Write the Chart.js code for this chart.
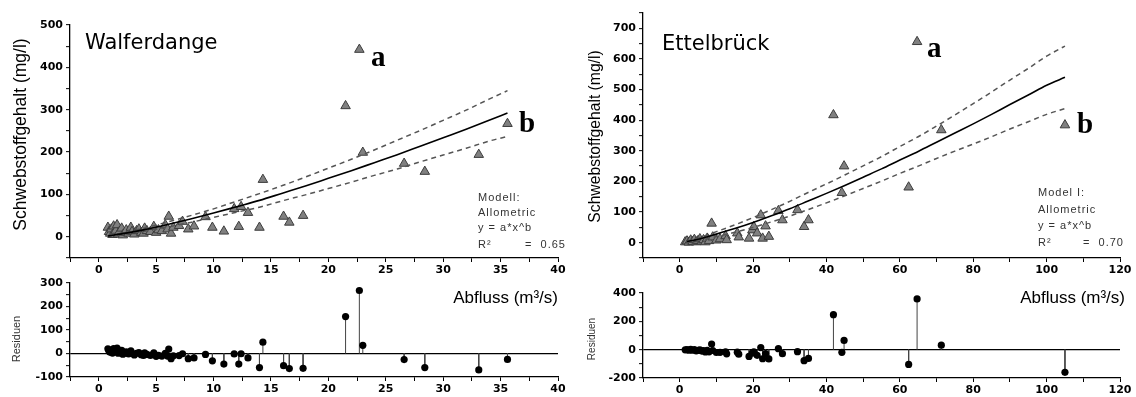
<!DOCTYPE html>
<html><head><meta charset="utf-8">
<script src="https://cdn.jsdelivr.net/npm/chart.js@4.4.0/dist/chart.umd.min.js"></script>
<style>
html,body{margin:0;padding:0;background:#fff;}
#wrap{position:relative;width:1136px;height:397px;overflow:hidden;background:#fff;}
canvas{position:absolute;}
</style></head><body>
<div id="wrap">
<canvas id="l1" width="575" height="287" style="left:0;top:0;"></canvas>
<canvas id="l2" width="575" height="127" style="left:0;top:270px;"></canvas>
<canvas id="r1" width="561" height="287" style="left:575px;top:0;"></canvas>
<canvas id="r2" width="561" height="127" style="left:575px;top:270px;"></canvas>
</div>
<script>
// ---------- Walferdange data ----------
const walfQ = [0.8,0.9,1.0,1.1,1.2,1.3,1.4,1.5,1.6,1.7,1.8,2.0,2.1,2.3,2.4,2.6,2.8,2.9,3.1,3.3,3.5,3.7,3.9,4.0,4.2,4.5,4.8,5.0,5.2,5.5,5.8,6.0,6.1,6.3,6.5,7.0,7.3,7.8,8.3,9.3,9.9,10.9,11.8,12.2,12.4,13.0,14.0,14.3,16.1,16.6,17.8,21.5,22.7,23.0,26.6,28.4,33.1,35.6];
const walfS = [22,12,8,18,5,25,10,15,28,6,12,20,4,10,16,8,22,12,6,14,18,10,8,20,14,12,24,10,16,14,28,18,48,8,22,26,36,18,25,47,22,13,66,24,71,57,22,135,48,34,50,309,442,199,173,154,194,267];
const walfRes = [20,10,5,15,2,21,6,10,23,1,6,13,-3,2,7,-2,11,1,-6,1,4,-5,-8,3,-4,-8,3,-12,-8,-11,1,-11,19,-22,-10,-9,-1,-22,-19,-4,-31,-45,-2,-45,-1,-19,-60,48,-52,-64,-63,157,268,35,-26,-60,-70,-25];
const walfFitQ = [0.8,2,4,6,8,10,12,14,16,18,20,22,24,26,28,30,32,34,35.6];
const walfFit = [2,7,17,29,42,56,71,86,103,120,138,156,175,194,214,234,254,275,292];
const walfUpper = [3,9,21,35,50,66,84,102,121,141,162,183,205,228,251,275,299,325,345];
const walfLower = [1,5,13,23,34,46,58,70,85,99,114,129,145,160,177,193,209,226,237];
const walfXLabels = [0,5,10,15,20,25,30,35,40];
const walfYLabels = [0,100,200,300,400,500];
const walfResLabels = [-100,0,100,200,300];

// ---------- Ettelbrück data ----------
const ettQ = [1.5,2,2.5,3,3.5,4,4.5,5,5.5,6,6.5,7,7.5,8,8.7,9,10,11,12.5,12.8,15.7,16.1,18.9,19.8,20.2,21.1,22.1,22.6,23.4,24.3,26.9,28,32.1,33.9,35.1,41.9,44.2,44.8,62.4,64.7,71.3,105];
const ettS = [2,5,1,8,3,10,2,6,12,4,9,2,14,6,63,18,8,12,22,9,31,18,14,41,52,31,90,14,54,20,104,74,107,52,74,417,163,250,181,656,368,384];
const ettRes = [-1,1,-4,2,-4,1,-8,-5,-1,-10,-7,-16,-5,-15,40,-6,-20,-19,-15,-29,-18,-32,-48,-25,-15,-40,15,-64,-27,-65,7,-28,-14,-78,-62,247,-19,65,-104,358,32,-160];
const ettFitQ = [2,5,10,15,20,25,30,35,40,45,50,55,60,65,70,75,80,85,90,95,100,105];
const ettFit = [4,11,28,46,66,88,111,136,161,187,214,241,270,298,328,358,388,419,451,482,514,540];
const ettUpper = [6,15,36,58,82,108,135,164,192,221,251,281,314,346,381,417,454,492,531,569,609,642];
const ettLower = [2,7,20,34,50,68,87,108,130,153,177,201,226,250,275,299,322,346,371,395,419,438];
const ettXLabels = [0,20,40,60,80,100,120];
const ettYLabels = [0,100,200,300,400,500,600,700];
const ettResLabels = [-200,0,200,400];

Chart.defaults.font.family = 'DejaVu Sans';
Chart.defaults.color = '#000';

const pts = (xs, ys) => xs.map((x, i) => ({x, y: ys[i]}));
const stems = (xs, ys) => {
  const out = [];
  xs.forEach((x, i) => { out.push({x, y: 0}, {x, y: ys[i]}, {x, y: null}); });
  return out;
};
const has = (arr, v) => arr.some(a => Math.abs(a - v) < 1e-6);

function textPlugin(items) {
  return {
    id: 'txt',
    afterDraw(chart) {
      const ctx = chart.ctx;
      items.forEach(t => {
        ctx.save();
        ctx.font = t.font;
        ctx.fillStyle = t.color || '#000';
        ctx.textAlign = t.align || 'left';
        ctx.textBaseline = t.base || 'alphabetic';
        if (t.sp) ctx.letterSpacing = t.sp;
        ctx.translate(t.x, t.y);
        if (t.rot) ctx.rotate(t.rot);
        ctx.fillText(t.text, 0, 0);
        ctx.restore();
      });
    }
  };
}

const tickFont = {family: 'DejaVu Sans', size: 11, weight: 'bold'};

function xAxis(min, max, step, labels, h) {
  return {
    type: 'linear', min, max, offset: false,
    ticks: {stepSize: step, autoSkip: false, maxRotation: 0, padding: 2, color: '#000', font: tickFont,
      callback: v => has(labels, v) ? String(v) : ''},
    grid: {drawOnChartArea: false, drawTicks: true, tickLength: 4, tickColor: '#000', tickWidth: 1},
    border: {display: true, color: '#000', width: 1.3},
    afterFit: s => { s.height = h; s.paddingLeft = 0; s.paddingRight = 0; }
  };
}
function yAxis(min, max, step, labels, w, zeroLine) {
  return {
    type: 'linear', min, max,
    ticks: {stepSize: step, autoSkip: false, padding: 3, color: '#000', font: tickFont,
      callback: v => has(labels, v) ? String(v) : ''},
    grid: {drawOnChartArea: !!zeroLine, drawTicks: true, tickLength: 4, tickColor: '#000', tickWidth: 1,
      color: c => (zeroLine && c.tick && c.tick.value === 0) ? '#000' : 'rgba(0,0,0,0)', lineWidth: 1.3},
    border: {display: true, color: '#000', width: 1.3},
    afterFit: s => { s.width = w; s.paddingTop = 0; s.paddingBottom = 0; }
  };
}

function topChart(id, q, s, fq, fit, up, lo, xr, yr, dims, texts) {
  return new Chart(document.getElementById(id), {
    type: 'scatter',
    data: {datasets: [
      {data: pts(fq, fit), showLine: true, pointRadius: 0, borderColor: '#000', borderWidth: 1.6, cubicInterpolationMode: 'monotone'},
      {data: pts(fq, up), showLine: true, pointRadius: 0, borderColor: '#555', borderWidth: 1.5, borderDash: [5, 4], cubicInterpolationMode: 'monotone'},
      {data: pts(fq, lo), showLine: true, pointRadius: 0, borderColor: '#555', borderWidth: 1.5, borderDash: [5, 4], cubicInterpolationMode: 'monotone'},
      {data: pts(q, s), pointStyle: 'triangle', pointRadius: 5.5, backgroundColor: '#808080', borderColor: '#3c3c3c', borderWidth: 1, clip: false}
    ]},
    options: {
      responsive: false, animation: false, devicePixelRatio: 1,
      layout: {padding: {left: 0, top: dims.top, right: dims.right, bottom: 0}},
      plugins: {legend: {display: false}, tooltip: {enabled: false}},
      scales: {x: xAxis(xr[0], xr[1], xr[2], xr[3], dims.xh), y: yAxis(yr[0], yr[1], yr[2], yr[3], dims.yw, false)}
    },
    plugins: [textPlugin(texts)]
  });
}
function resChart(id, q, r, xr, yr, dims, texts) {
  return new Chart(document.getElementById(id), {
    type: 'scatter',
    data: {datasets: [
      {data: pts(q, r), pointStyle: 'circle', pointRadius: 3.6, backgroundColor: '#000', borderColor: '#000', borderWidth: 0, clip: false},
      {data: stems(q, r), showLine: true, spanGaps: false, pointRadius: 0, borderColor: '#444', borderWidth: 1}
    ]},
    options: {
      responsive: false, animation: false, devicePixelRatio: 1,
      layout: {padding: {left: 0, top: dims.top, right: dims.right, bottom: 0}},
      plugins: {legend: {display: false}, tooltip: {enabled: false}},
      scales: {x: xAxis(xr[0], xr[1], xr[2], xr[3], dims.xh), y: yAxis(yr[0], yr[1], yr[2], yr[3], dims.yw, true)}
    },
    plugins: [textPlugin(texts)]
  });
}

const modelFont = '11px "Liberation Sans"';
const titleFont = '21px "DejaVu Sans"';
const letterFont = 'bold 29px "Liberation Serif"';

topChart('l1', walfQ, walfS, walfFitQ, walfFit, walfUpper, walfLower,
  [-2.5, 40, 2.5, walfXLabels], [-50, 500, 50, walfYLabels],
  {yw: 70, xh: 29, top: 25, right: 17},
  [
    {text: 'Walferdange', x: 85, y: 49, font: titleFont},
    {text: 'a', x: 371, y: 66, font: letterFont},
    {text: 'b', x: 519, y: 132, font: letterFont},
    {text: 'Modell:', x: 478, y: 198, font: modelFont, color: '#333', base: 'middle', sp: '1px'},
    {text: 'Allometric', x: 478, y: 213, font: modelFont, color: '#333', base: 'middle', sp: '1px'},
    {text: 'y = a*x^b', x: 478, y: 228, font: modelFont, color: '#333', base: 'middle', sp: '1px'},
    {text: 'R²', x: 478, y: 245, font: modelFont, color: '#333', base: 'middle', sp: '1px'},
    {text: '=  0.65', x: 525, y: 245, font: modelFont, color: '#333', base: 'middle', sp: '1px'},
    {text: 'Schwebstoffgehalt (mg/l)', x: 21, y: 134.5, rot: -Math.PI / 2, align: 'center', base: 'middle', font: '17.5px "Liberation Sans"'}
  ]);
resChart('l2', walfQ, walfRes, [-2.5, 40, 2.5, walfXLabels], [-100, 300, 50, walfResLabels],
  {yw: 70, xh: 20, top: 13, right: 17},
  [
    {text: 'Abfluss (m³/s)', x: 558, y: 28, align: 'right', base: 'middle', font: '17px "Liberation Sans"'},
    {text: 'Residuen', x: 17, y: 69, rot: -Math.PI / 2, align: 'center', base: 'middle', font: '11px "Liberation Sans"', color: '#333'}
  ]);
topChart('r1', ettQ, ettS, ettFitQ, ettFit, ettUpper, ettLower,
  [-10, 120, 10, ettXLabels], [-50, 750, 50, ettYLabels],
  {yw: 68, xh: 29, top: 13, right: 16},
  [
    {text: 'Ettelbrück', x: 87, y: 50, font: titleFont},
    {text: 'a', x: 352, y: 57, font: letterFont},
    {text: 'b', x: 502, y: 133, font: letterFont},
    {text: 'Model I:', x: 463, y: 193, font: modelFont, color: '#333', base: 'middle', sp: '1px'},
    {text: 'Allometric', x: 463, y: 210, font: modelFont, color: '#333', base: 'middle', sp: '1px'},
    {text: 'y = a*x^b', x: 463, y: 226, font: modelFont, color: '#333', base: 'middle', sp: '1px'},
    {text: 'R²', x: 463, y: 243, font: modelFont, color: '#333', base: 'middle', sp: '1px'},
    {text: '=  0.70', x: 508, y: 243, font: modelFont, color: '#333', base: 'middle', sp: '1px'},
    {text: 'Schwebstoffgehalt (mg/l)', x: 21, y: 136.5, rot: -Math.PI / 2, align: 'center', base: 'middle', font: '15.7px "Liberation Sans"'}
  ]);
resChart('r2', ettQ, ettRes, [-10, 120, 10, ettXLabels], [-200, 400, 100, ettResLabels],
  {yw: 68, xh: 19, top: 23, right: 16},
  [
    {text: 'Abfluss (m³/s)', x: 550, y: 28, align: 'right', base: 'middle', font: '17px "Liberation Sans"'},
    {text: 'Residuen', x: 17.5, y: 69, rot: -Math.PI / 2, align: 'center', base: 'middle', font: '10px "Liberation Sans"', color: '#333'}
  ]);
</script>
</body></html>
